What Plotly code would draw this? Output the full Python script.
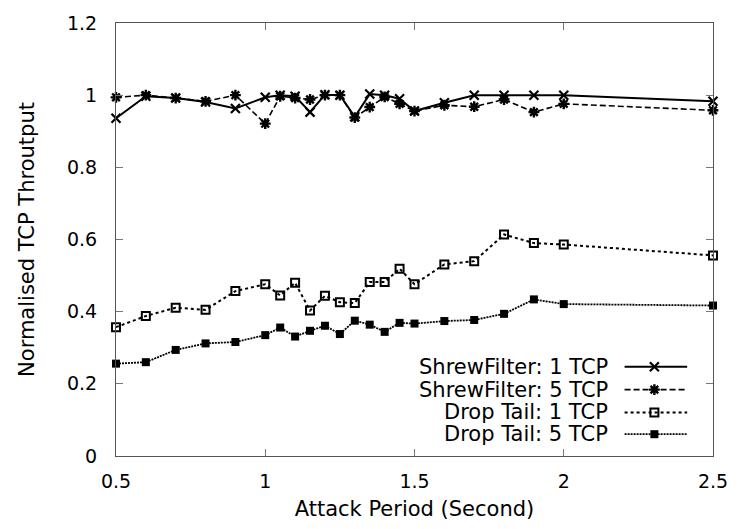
import plotly.graph_objects as go

# ---- data ----
x_all = [0.5, 0.6, 0.7, 0.8, 0.9, 1.0, 1.05, 1.1, 1.15, 1.2, 1.25, 1.3, 1.35, 1.4,
         1.45, 1.5, 1.6, 1.7, 1.8, 1.9, 2.0, 2.5]
shrew_1tcp = [0.936, 0.997, 0.992, 0.981, 0.963, 0.994, 1.0, 0.997, 0.953, 1.001, 1.0,
              0.940, 1.003, 1.0, 0.990, 0.956, 0.979, 1.0, 1.0, 1.0, 1.0, 0.983]
shrew_5tcp = [0.994, 1.0, 0.992, 0.983, 1.0, 0.921, 0.997, 0.992, 0.988, 1.0, 1.0,
              0.938, 0.967, 0.995, 0.976, 0.956, 0.972, 0.968, 0.988, 0.953, 0.976, 0.958]
droptail_1tcp = [0.357, 0.388, 0.411, 0.405, 0.457, 0.476, 0.445, 0.480, 0.403, 0.444, 0.426,
                 0.424, 0.482, 0.482, 0.519, 0.476, 0.531, 0.540, 0.614, 0.590, 0.586, 0.556]
droptail_5tcp = [0.256, 0.260, 0.294, 0.312, 0.316, 0.335, 0.356, 0.331, 0.347, 0.361, 0.338,
                 0.375, 0.364, 0.344, 0.369, 0.367, 0.374, 0.377, 0.394, 0.434, 0.421, 0.417]

series_names = ["ShrewFilter: 1 TCP", "ShrewFilter: 5 TCP", "Drop Tail: 1 TCP", "Drop Tail: 5 TCP"]
series_values = [shrew_1tcp, shrew_5tcp, droptail_1tcp, droptail_5tcp]

x_ticks = [0.5, 1, 1.5, 2, 2.5]
x_tick_labels = ["0.5", "1", "1.5", "2", "2.5"]
y_ticks = [0, 0.2, 0.4, 0.6, 0.8, 1.0, 1.2]
y_tick_labels = ["0", "0.2", "0.4", "0.6", "0.8", "1", "1.2"]

# ---- styles ----
styles = [
    dict(dash="solid", symbol="x-thin-open", msize=9, mlw=2.2, lw=2.0),
    dict(dash="6px,3px", symbol="asterisk-open", msize=9, mlw=2.4, lw=1.6),
    dict(dash="3px,3px", symbol="square-open", msize=8, mlw=2.0, lw=2.0),
    dict(dash="2px,1px", symbol="square", msize=8, mlw=0, lw=1.8),
]

FONT = "DejaVu Sans, Liberation Sans, Arial, sans-serif"
TICK_SIZE = 19
TEXT_SIZE = 21
W, H = 740, 529
L, R, T, B = 116, 23, 19, 73

fig = go.Figure()
for name, vals, st in zip(series_names, series_values, styles):
    fig.add_trace(go.Scatter(
        x=x_all, y=vals, name=name, mode="lines+markers",
        line=dict(color="black", width=st["lw"], dash=st["dash"]),
        marker=dict(symbol=st["symbol"], size=st["msize"], color="black",
                    line=dict(color="black", width=st["mlw"])),
        showlegend=False, cliponaxis=False,
    ))

# ---- custom legend (text left, sample right), on a pixel-space overlay axis ----
legend_rows_y = [366, 389, 412, 434]
legend_text_right = 613
legend_line_x = [628, 691]
legend_marker_x = 658
for name, st, ly in zip(series_names, styles, legend_rows_y):
    fig.add_trace(go.Scatter(
        x=legend_line_x, y=[ly, ly], mode="lines", xaxis="x2", yaxis="y2",
        line=dict(color="black", width=st["lw"], dash=st["dash"]),
        showlegend=False, hoverinfo="skip",
    ))
    fig.add_trace(go.Scatter(
        x=[legend_marker_x], y=[ly], mode="markers", xaxis="x2", yaxis="y2",
        marker=dict(symbol=st["symbol"], size=st["msize"], color="black",
                    line=dict(color="black", width=st["mlw"])),
        showlegend=False, hoverinfo="skip",
    ))
    fig.add_annotation(
        x=legend_text_right, y=ly, xref="x2", yref="y2", text=name,
        showarrow=False, xanchor="right", yanchor="middle",
        font=dict(family=FONT, size=TEXT_SIZE, color="black"),
    )

axis_common = dict(
    showgrid=False, zeroline=False, showline=True, linecolor="#555555", linewidth=1,
    mirror="ticks", ticks="inside", ticklen=7, tickcolor="#777777", tickwidth=1,
    tickfont=dict(family=FONT, size=TICK_SIZE, color="black"),
)

fig.update_layout(
    width=W, height=H,
    margin=dict(l=L, r=R, t=T, b=B, pad=0),
    paper_bgcolor="white", plot_bgcolor="white",
    font=dict(family=FONT, size=TEXT_SIZE, color="black"),
    xaxis=dict(range=[0.5, 2.5], tickvals=x_ticks, ticktext=x_tick_labels, ticklabelstandoff=8,
               title=dict(text="Attack Period (Second)", font=dict(family=FONT, size=TEXT_SIZE), standoff=10),
               **axis_common),
    yaxis=dict(range=[0, 1.2], tickvals=y_ticks, ticktext=y_tick_labels, ticklabelstandoff=14,
               title=dict(text="Normalised TCP Throutput", font=dict(family=FONT, size=TEXT_SIZE), standoff=26),
               **axis_common),
    xaxis2=dict(range=[L, W - R], overlaying="x", anchor="y2", visible=False, fixedrange=True),
    yaxis2=dict(range=[H - B, T], overlaying="y", anchor="x2", visible=False, fixedrange=True),
)

fig.write_html("out.html")
